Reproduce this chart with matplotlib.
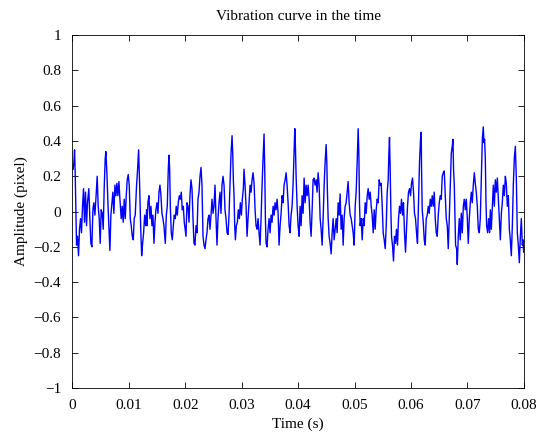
import matplotlib
matplotlib.use("Agg")
import matplotlib.pyplot as plt
import numpy as np

# time (ms) and amplitude (pixel)
t_ms = [
    0.14, 0.27, 0.39, 0.50, 0.62, 0.74, 0.92, 1.09, 1.27, 1.45, 1.62, 1.80, 1.98, 2.15, 2.33, 2.51,
    2.68, 2.92, 3.10, 3.28, 3.46, 3.64, 3.81, 3.99, 4.17, 4.40, 4.58, 4.76, 4.93, 5.11, 5.29, 5.47,
    5.64, 5.82, 5.94, 6.12, 6.30,
    6.65, 6.83, 7.01, 7.18, 7.36, 7.54, 7.72, 7.89, 8.07, 8.25, 8.43, 8.66, 8.84, 9.01, 9.19, 9.37,
    9.55, 9.72, 9.90, 10.08, 10.26, 10.43, 10.61, 10.79, 10.96, 11.14, 11.38, 11.56, 11.74, 11.92,
    12.10, 12.28, 12.45, 12.63, 12.81, 12.99, 13.16,
    13.22, 13.39, 13.57, 13.75, 13.93, 14.10, 14.28, 14.46, 14.64, 14.81, 14.99, 15.17, 15.35, 15.52,
    15.70, 15.88, 16.05, 16.23, 16.47, 16.65, 16.82, 17.00, 17.12, 17.24, 17.36, 17.53, 17.71, 17.89,
    18.06, 18.24, 18.41, 18.59, 18.77, 18.95, 19.12, 19.30, 19.48, 19.66, 19.83,
    20.14, 20.31, 20.49, 20.67, 20.84, 21.02, 21.20, 21.38, 21.55, 21.73, 21.91, 22.09, 22.26, 22.44,
    22.62, 22.80, 22.97, 23.15, 23.33, 23.51, 23.68, 23.86, 24.04, 24.22, 24.39, 24.57, 24.75, 24.93,
    25.10, 25.28, 25.46, 25.63, 25.81, 25.99, 26.17, 26.34, 26.52, 26.70,
    26.88, 27.05, 27.23, 27.41, 27.59, 27.76, 27.94, 28.12, 28.30, 28.42, 28.53, 28.65, 28.77, 28.89,
    29.06, 29.24, 29.41, 29.59, 29.77, 29.95, 30.12, 30.30, 30.42, 30.60, 30.78, 30.96, 31.13, 31.31,
    31.49, 31.67, 31.84, 32.02, 32.20, 32.38, 32.55, 32.73, 32.91, 33.08, 33.26, 33.44,
    33.62, 33.79, 33.97, 34.09, 34.21, 34.33, 34.51, 34.68, 34.86, 35.04, 35.21, 35.39, 35.57, 35.75,
    35.92, 36.10, 36.28, 36.46, 36.63, 36.81, 36.99, 37.17, 37.34, 37.52, 37.70, 37.88, 38.05, 38.23,
    38.41, 38.58, 38.76, 38.94, 39.12, 39.29, 39.42, 39.53, 39.65, 39.83, 40.00, 40.18,
    40.36, 40.54, 40.71, 40.89, 41.07, 41.25, 41.42, 41.60, 41.78, 41.96, 42.13, 42.31, 42.49, 42.66,
    42.84, 43.02, 43.20, 43.37, 43.55, 43.73, 43.91, 44.08, 44.26, 44.44, 44.62, 44.79, 44.97, 45.09,
    45.20, 45.33, 45.50, 45.68, 45.86, 46.04, 46.21, 46.39, 46.57, 46.75, 46.92,
    47.10, 47.28, 47.45, 47.63, 47.81, 47.99, 48.16, 48.34, 48.52, 48.70, 48.87, 49.05, 49.23, 49.41,
    49.58, 49.76, 49.94, 50.12, 50.29, 50.47, 50.65, 50.77, 50.88, 51.00, 51.18, 51.36, 51.54, 51.71,
    51.89, 52.07, 52.25, 52.42, 52.60, 52.78, 52.96, 53.13, 53.31, 53.49, 53.66,
    53.84, 54.02, 54.20, 54.37, 54.55, 54.73, 54.91, 55.08, 55.26, 55.44, 55.62, 55.79, 55.97, 56.09,
    56.20, 56.32, 56.44, 56.56, 56.73, 56.91, 57.09, 57.26, 57.44, 57.62, 57.80, 57.97, 58.15, 58.33,
    58.51, 58.68, 58.86, 59.04, 59.22, 59.39, 59.57, 59.75, 59.93, 60.10, 60.28, 60.46,
    60.63, 60.81, 60.99, 61.16, 61.34, 61.52, 61.70, 61.82, 61.88, 62.00, 62.18, 62.36, 62.53, 62.71,
    62.89, 63.07, 63.24, 63.42, 63.60, 63.77, 63.95, 64.13, 64.31, 64.48, 64.66, 64.84, 65.02, 65.19,
    65.37, 65.55, 65.73, 65.90, 66.08, 66.26, 66.44, 66.61, 66.79, 66.97,
    67.15, 67.32, 67.45, 67.55, 67.68, 67.80, 67.91, 68.09, 68.21, 68.39, 68.57, 68.74, 68.92, 69.10,
    69.28, 69.45, 69.63, 69.81, 69.99, 70.16, 70.34, 70.52, 70.70, 70.87, 71.05, 71.23, 71.40, 71.58,
    71.76, 71.94, 72.11, 72.29, 72.47, 72.65, 72.82, 72.94, 73.05, 73.18, 73.30, 73.41, 73.59, 73.76,
    73.94,
    74.07, 74.24, 74.42, 74.60, 74.78, 74.95, 75.13, 75.31, 75.49, 75.66, 75.84, 76.02, 76.19, 76.37,
    76.55, 76.73, 76.90, 77.08, 77.26, 77.44, 77.61, 77.79, 77.97, 78.14, 78.32, 78.50, 78.68, 78.85,
    79.03, 79.21, 79.39, 79.56, 79.74, 79.86, 79.97,
]

amp = [
    0.24, 0.28, 0.35, 0.22, 0.01, -0.19, -0.14, -0.25, -0.10, -0.04, -0.12, 0.03, 0.13, -0.06, 0.11, -0.08,
    0.05, 0.13, -0.04, -0.18, -0.20, 0.01, 0.05, -0.02, 0.07, 0.20, 0.03, -0.04, -0.18, 0.01, -0.01, -0.10,
    0.13, 0.30, 0.34, 0.22, 0.05,
    -0.22, -0.02, 0.05, 0.11, -0.01, 0.15, 0.09, 0.16, 0.09, 0.17, 0.07, -0.04, 0.03, -0.06, 0.07, -0.04,
    0.09, 0.18, 0.21, 0.15, -0.04, -0.08, -0.14, -0.16, -0.04, -0.02, 0.15, 0.24, 0.35, 0.15,
    -0.08, -0.25, -0.18, -0.12, -0.02, -0.08, 0.01,
    -0.08, 0.05, 0.09, -0.04, 0.03, -0.08, -0.02, -0.18, -0.06, 0.01, 0.05, -0.01, 0.11, 0.15,
    0.09, -0.01, -0.04, -0.08, -0.18, -0.02, 0.03, 0.24, 0.32, 0.24, 0.03, -0.12, -0.16, -0.08,
    -0.02, -0.04, 0.03, -0.02, 0.05, 0.09, 0.07, 0.11, 0.01, 0.03, -0.06,
    -0.14, 0.05, 0.03, -0.06, 0.09, 0.18, 0.13, -0.04, -0.18, -0.19, -0.08, -0.12, 0.07, 0.11,
    0.20, 0.25, 0.15, -0.14, -0.19, -0.21, -0.16, -0.12, -0.04, -0.02, -0.10, -0.02, 0.07, -0.01,
    0.03, 0.15, -0.04, -0.19, -0.04, 0.05, 0.11, -0.01, 0.15, 0.20,
    0.15, 0.01, -0.04, -0.12, -0.13, -0.02, 0.15, 0.33, 0.43, 0.33, 0.18, 0.09, -0.08, -0.16,
    -0.08, -0.06, 0.01, -0.04, 0.05, -0.02, 0.07, 0.13, 0.24, 0.15, 0.03, -0.14, -0.04, 0.05,
    0.15, 0.11, 0.18, 0.22, 0.16, 0.01, -0.08, -0.10, -0.04, -0.12, -0.19, -0.04,
    0.15, 0.30, 0.44, 0.24, -0.04, -0.18, -0.20, -0.10, -0.04, -0.12, -0.02, -0.06, 0.03, -0.02,
    0.05, 0.01, 0.07, -0.01, -0.19, -0.08, -0.01, 0.09, 0.05, 0.15, 0.18, 0.22, 0.15, 0.05,
    -0.08, -0.12, -0.02, 0.03, 0.16, 0.33, 0.47, 0.37, 0.20, 0.03, -0.08, -0.14,
    0.03, -0.08, 0.09, -0.01, 0.19, 0.05, 0.15, 0.09, 0.15, 0.07, -0.06, -0.14, 0.01, 0.18,
    0.19, 0.15, 0.18, 0.11, 0.22, 0.15, -0.04, -0.10, -0.19, -0.04, 0.15, 0.28, 0.38, 0.28,
    0.11, -0.04, -0.14, -0.18, -0.24, -0.12, -0.04, -0.16, -0.10, -0.04, -0.12,
    0.05, -0.02, 0.10, -0.10, -0.02, -0.19, -0.04, 0.03, 0.05, 0.11, 0.17, 0.05, -0.02, -0.04,
    -0.08, -0.12, -0.19, 0.03, 0.11, 0.28, 0.47, 0.33, 0.05, -0.08, -0.04, -0.16, -0.04, -0.08,
    0.05, -0.01, 0.09, 0.13, 0.07, 0.11, 0.03, -0.02, -0.12, 0.01, -0.10,
    0.01, 0.07, 0.05, 0.18, 0.15, 0.16, 0.03, -0.12, -0.16, -0.21, -0.08, 0.11, 0.18, 0.33,
    0.42, 0.24, 0.01, -0.14, -0.19, -0.28, -0.14, -0.18, -0.10, -0.19, -0.04, 0.03, -0.01, 0.07,
    -0.02, 0.05, -0.12, -0.23, -0.10, 0.03, 0.11, 0.13, 0.09, 0.16, 0.19, 0.11,
    -0.01, -0.04, -0.12, -0.18, 0.05, 0.28, 0.41, 0.45, 0.24, 0.01, -0.06, -0.16, -0.19, -0.04,
    -0.02, 0.03, -0.01, 0.07, 0.03, 0.09, 0.03, 0.11, -0.04, -0.12, -0.14, -0.02, 0.05, 0.09,
    0.07, 0.20, 0.22, 0.23, 0.09, -0.04, -0.08, -0.21, -0.04, 0.15,
    0.33, 0.37, 0.41, 0.24, 0.15, -0.04, -0.19, -0.21, -0.30, -0.14, -0.04, -0.16, -0.01, -0.12,
    0.03, 0.07, 0.01, 0.07, -0.04, -0.18, -0.04, 0.05, 0.11, 0.05, 0.15, 0.22, 0.16, 0.11,
    0.03, -0.10, -0.12, -0.04, 0.18, 0.41, 0.48, 0.39, 0.41, 0.30, 0.05, -0.08, -0.12, -0.04,
    -0.12,
    0.01, -0.10, 0.03, 0.15, 0.03, 0.18, 0.11, 0.19, 0.07, -0.04, -0.16, -0.01, 0.05, 0.15,
    0.09, 0.20, 0.16, 0.03, 0.09, -0.10, -0.16, -0.25, -0.08, 0.15, 0.30, 0.37, 0.18, -0.12,
    -0.19, -0.29, -0.14, -0.04, -0.19, -0.16, -0.23,
]

x_ticks = [0, 0.01, 0.02, 0.03, 0.04, 0.05, 0.06, 0.07, 0.08]
x_labels = ["0", "0.01", "0.02", "0.03", "0.04", "0.05", "0.06", "0.07", "0.08"]
y_ticks = [-1, -0.8, -0.6, -0.4, -0.2, 0, 0.2, 0.4, 0.6, 0.8, 1]
y_labels = ["\u22121", "\u22120.8", "\u22120.6", "\u22120.4", "\u22120.2", "0",
            "0.2", "0.4", "0.6", "0.8", "1"]

plt.rcParams["font.family"] = ["Liberation Serif", "DejaVu Serif"]
plt.rcParams["font.size"] = 11

fig = plt.figure(figsize=(5.4, 4.34), dpi=100)
ax = fig.add_axes([0.134, 0.106, 0.836, 0.813])

t = np.array(t_ms) / 1000.0
ax.plot(t, amp, color="#0000ff", linewidth=1.0)

ax.set_xlim(0, 0.08)
ax.set_ylim(-1, 1)
ax.set_xticks(x_ticks)
ax.set_xticklabels(x_labels)
ax.set_yticks(y_ticks)
ax.set_yticklabels(y_labels)
ax.tick_params(direction="in", top=True, right=True, length=4, width=0.6)
ax.tick_params(axis="x", pad=8)
ax.tick_params(axis="y", pad=8)
for s in ax.spines.values():
    s.set_linewidth(0.6)

ax.set_title("Vibration curve in the time", fontsize=11, pad=11)
ax.set_xlabel("Time (s)", labelpad=4)
ax.set_ylabel("Amplitude (pixel)", labelpad=4)

fig.savefig("out.png", dpi=100)
